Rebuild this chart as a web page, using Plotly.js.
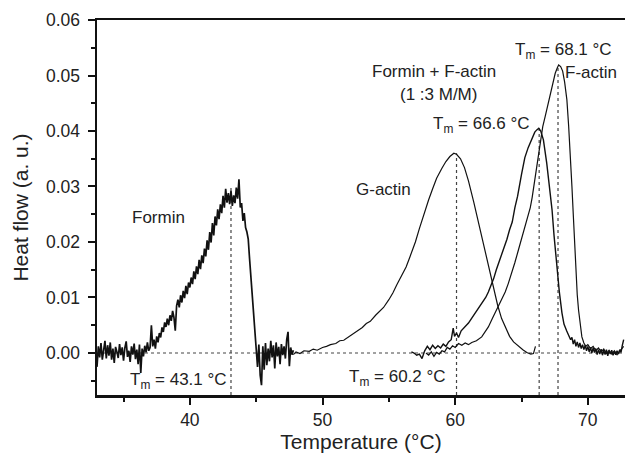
<!DOCTYPE html>
<html>
<head>
<meta charset="utf-8">
<script src="https://cdn.plot.ly/plotly-3.0.1.min.js"></script>
<style>html,body{margin:0;padding:0;background:#fff;}#chart{width:625px;height:456px;}</style>
</head>
<body>
<div id="chart"></div>
<script>
// ---- Formin (noisy DSC trace) ----
const forminX = [33.0,33.1,33.2,33.3,33.4,33.5,33.6,33.7,33.8,33.9,
  34.0,34.1,34.2,34.3,34.4,34.5,34.6,34.7,34.8,34.9,
  35.0,35.1,35.2,35.3,35.4,35.5,35.6,35.7,35.8,35.9,
  36.0,36.1,36.2,36.3,36.4,36.5,36.6,36.7,36.8,36.9,
  37.0,37.1,37.2,37.3,37.4,37.5,37.6,37.7,37.8,37.9,
  38.0,38.1,38.2,38.3,38.4,38.5,38.6,38.7,38.8,38.9,
  39.0,39.1,39.2,39.3,39.4,39.5,39.6,39.7,39.8,39.9,
  40.0,40.1,40.2,40.3,40.4,40.5,40.6,40.7,40.8,40.9,
  41.0,41.1,41.2,41.3,41.4,41.5,41.6,41.7,41.8,41.9,
  42.0,42.1,42.2,42.3,42.4,42.5,42.6,42.7,42.8,42.9,
  43.0,43.1,43.2,43.3,43.4,43.5,43.6,43.7,43.8,43.9,
  44.0,44.1,44.2,44.3,44.4,44.5,44.6,44.7,44.8,44.9,
  45.0,45.1,45.2,45.3,45.4,45.5,45.6,45.7,45.8,45.9,
  46.0,46.1,46.2,46.3,46.4,46.5,46.6,46.7,46.8,46.9,
  47.0,47.1,47.2,47.3,47.4,47.5,47.6,47.7,47.8];
const forminY = [-0.0025,0.0012,-0.0008,0.0018,-0.0012,0.0005,0.0022,-0.0010,0.0014,-0.0005,
  0.0019,-0.0012,0.0008,-0.0018,0.0011,0.0002,-0.0009,0.0016,-0.0004,0.0010,
  -0.0014,0.0009,0.0021,-0.0007,0.0004,-0.0016,0.0012,-0.0003,0.0017,-0.0011,
  0.0006,-0.0020,0.0015,-0.0036,0.0008,-0.0006,0.0013,0.0001,0.0019,0.0004,
  0.0010,0.0050,0.0012,0.0024,0.0008,0.0030,0.0019,0.0036,0.0028,0.0046,
  0.0038,0.0055,0.0047,0.0062,0.0050,0.0068,0.0058,0.0076,0.0064,0.0040,
  0.0085,0.0096,0.0082,0.0104,0.0091,0.0112,0.0099,0.0121,0.0106,0.0127,
  0.0118,0.0136,0.0124,0.0147,0.0133,0.0156,0.0142,0.0168,0.0151,0.0176,
  0.0162,0.0188,0.0174,0.0203,0.0186,0.0218,0.0199,0.0234,0.0212,0.0246,
  0.0230,0.0259,0.0241,0.0268,0.0252,0.0283,0.0262,0.0296,0.0271,0.0288,
  0.0268,0.0292,0.0265,0.0284,0.0270,0.0298,0.0278,0.0313,0.0262,0.0270,
  0.0238,0.0252,0.0226,0.0218,0.0205,0.0170,0.0135,0.0100,0.0068,0.0035,
  0.0010,-0.0025,0.0015,-0.0040,-0.0058,0.0012,-0.0030,0.0018,-0.0022,0.0008,
  -0.0015,0.0022,-0.0008,0.0014,-0.0028,0.0019,-0.0006,0.0011,-0.0020,0.0016,
  -0.0004,0.0012,-0.0010,0.0024,0.0038,-0.0024,0.0010,-0.0003,0.0005];

// ---- G-actin ----
const gactinX = [47.8,48.0,48.3,48.6,49.0,49.3,49.6,50.0,50.3,50.6,51.0,51.3,51.6,52.0,52.3,52.6,
  53.0,53.3,53.6,54.0,54.3,54.6,55.0,55.3,55.6,56.0,56.3,56.6,57.0,57.3,57.6,58.0,58.3,58.6,
  59.0,59.3,59.6,59.9,60.1,60.4,60.7,61.0,61.4,61.7,62.0,62.3,62.6,62.9,63.2,63.5,63.8,64.1,
  64.4,64.8,65.1,65.4,65.7,65.9,66.05];
const gactinY = [-0.0003,0.0002,-0.0001,0.0004,0.0003,0.0007,0.0005,0.0010,0.0012,0.0015,0.0017,0.0022,0.0023,0.0030,0.0035,0.0039,
  0.0046,0.0053,0.0057,0.0068,0.0076,0.0082,0.0096,0.0108,0.0123,0.0140,0.0155,0.0174,0.0200,0.0224,0.0248,0.0276,0.0296,0.0315,
  0.0333,0.0345,0.0354,0.0360,0.0358,0.0350,0.0334,0.0310,0.0272,0.0240,0.0212,0.0182,0.0150,0.0116,0.0086,0.0062,0.0045,0.0030,
  0.0020,0.0011,0.0006,0.0001,-0.0002,-0.0001,0.0012];

// ---- Formin + F-actin (1:3 M/M) ----
const mixX = [56.7,56.9,57.1,57.3,57.5,57.7,57.9,58.1,58.3,58.5,58.7,58.9,59.1,59.3,59.5,59.7,59.85,59.95,
  60.1,60.25,60.45,60.75,61.0,61.25,61.6,62.0,62.3,62.5,62.7,62.9,63.1,63.4,63.65,63.9,64.1,64.3,64.5,64.7,
  65.0,65.25,65.5,65.75,66.0,66.15,66.3,66.45,66.65,66.9,67.15,67.3,67.45,67.65,67.85,68.05,68.2,68.4,68.55,68.7,
  68.8,68.9,69.0,69.1,69.2,69.3,69.4,69.5,69.6,69.7,69.8,69.9,70.0,70.1,70.2,70.3,70.4,70.5,70.6,70.7,70.8,70.9,
  71.0,71.1,71.2,71.3,71.4,71.5,71.6,71.7,71.8,71.9,72.0,72.1,72.2,72.3,72.4,72.5,72.6,72.7];
const mixY = [0.0002,0.0000,-0.0004,-0.0002,-0.0010,0.0004,0.0012,0.0006,0.0014,0.0008,0.0013,0.0009,0.0016,0.0012,0.0020,0.0024,0.0045,0.0030,
  0.0036,0.0028,0.0040,0.0047,0.0054,0.0063,0.0075,0.0090,0.0100,0.0110,0.0122,0.0134,0.0150,0.0170,0.0188,0.0205,0.0222,0.0236,0.0262,0.0282,
  0.0322,0.0352,0.0370,0.0385,0.0398,0.0402,0.0405,0.0400,0.0384,0.0342,0.0294,0.0258,0.0212,0.0155,0.0110,0.0072,0.0052,0.0040,0.0030,0.0024,
  0.0028,0.0016,0.0024,0.0012,0.0020,0.0010,0.0018,0.0008,0.0015,0.0006,0.0014,0.0004,0.0012,0.0002,0.0010,0.0000,0.0009,0.0001,0.0008,-0.0003,0.0006,-0.0002,
  0.0007,-0.0004,0.0005,-0.0003,0.0006,-0.0005,0.0004,-0.0002,0.0005,-0.0004,0.0003,-0.0003,0.0004,-0.0002,0.0006,0.0001,0.0014,0.0024];

// ---- F-actin ----
const factinX = [57.8,58.0,58.2,58.4,58.6,58.8,59.0,59.2,59.4,59.6,59.8,60.0,60.25,60.5,60.75,61.0,61.25,61.6,
  62.0,62.25,62.5,62.8,63.1,63.4,63.77,64.0,64.27,64.5,64.77,65.0,65.28,65.5,65.66,65.8,66.03,66.2,66.4,66.6,
  66.78,67.0,67.16,67.35,67.54,67.7,67.8,67.95,68.1,68.25,68.42,68.55,68.67,68.8,68.9,69.05,69.2,69.3,69.45,
  69.55,69.7,69.85,70.0,70.2,70.4,70.6,70.8,71.0,71.2,71.4,71.6,71.8,72.0,72.2,72.4,72.7];
const factinY = [0.0000,-0.0004,0.0002,-0.0006,0.0001,-0.0002,0.0004,0.0002,0.0010,0.0007,0.0013,0.0010,0.0017,0.0014,0.0018,0.0015,0.0019,0.0022,
  0.0029,0.0037,0.0047,0.0062,0.0077,0.0092,0.0110,0.0125,0.0144,0.0163,0.0186,0.0206,0.0230,0.0250,0.0262,0.0280,0.0318,0.0350,0.0384,0.0408,
  0.0426,0.0450,0.0468,0.0488,0.0504,0.0514,0.0519,0.0516,0.0508,0.0488,0.0456,0.0410,0.0366,0.0300,0.0250,0.0165,0.0105,0.0077,0.0045,
  0.0029,0.0018,0.0012,0.0015,0.0008,0.0012,0.0004,0.0009,0.0002,0.0007,-0.0001,0.0005,-0.0002,0.0004,-0.0003,0.0003,0.0012];

// ---- Tm marker lines ----
const tmX = [43.1, 60.1, 66.33, 67.75];
const tmTop = [0.0300, 0.0360, 0.0405, 0.0519];
const baseX = [33.0, 72.8];
const baseY = [0, 0];

// ---- axes ----
const xRange = [33.0, 72.8];
const yRange = [-0.00757, 0.06];
const xTicks = [40, 50, 60, 70];
const yTicks = [0.00, 0.01, 0.02, 0.03, 0.04, 0.05, 0.06];

const FONT = "Liberation Sans, Arial, Helvetica, sans-serif";
const dotStyle = {color: '#444', width: 1.2, dash: 'dot'};
const curve = {color: '#111', width: 1.2};

const traces = [];
traces.push({x: baseX, y: baseY, mode: 'lines', line: dotStyle, hoverinfo: 'skip'});
for (let i = 0; i < tmX.length; i++) {
  traces.push({x: [tmX[i], tmX[i]], y: [yRange[0], tmTop[i]], mode: 'lines', line: dotStyle, hoverinfo: 'skip'});
}
traces.push({x: forminX, y: forminY, mode: 'lines', line: {color: '#111', width: 1.7}});
traces.push({x: gactinX, y: gactinY, mode: 'lines', line: curve});
traces.push({x: mixX, y: mixY, mode: 'lines', line: {color: '#111', width: 1.4}});
traces.push({x: factinX, y: factinY, mode: 'lines', line: curve});

const annFont = {family: FONT, size: 17, color: '#222'};
function ann(text, x, y, xanchor) {
  return {text: text, x: x, y: y, xref: 'x', yref: 'y', showarrow: false,
          xanchor: xanchor || 'center', yanchor: 'middle', font: annFont};
}
const annotations = [
  ann('Formin', 37.64, 0.0245),
  ann('G-actin', 54.63, 0.0294),
  ann('Formin + F-actin', 58.40, 0.0507),
  ann('(1 :3 M/M)', 58.73, 0.0465),
  ann('F-actin', 68.15, 0.0506, 'left'),
  ann('T<sub>m</sub> = 68.1 °C', 64.36, 0.0545, 'left'),
  ann('T<sub>m</sub> = 66.6 °C', 58.21, 0.0410, 'left'),
  ann('T<sub>m</sub> = 43.1 °C', 35.34, -0.0050, 'left'),
  ann('T<sub>m</sub> = 60.2 °C', 51.85, -0.0045, 'left')
];

const layout = {
  width: 625, height: 456,
  margin: {l: 97, r: 0, t: 20, b: 61},
  paper_bgcolor: '#fff', plot_bgcolor: '#fff',
  showlegend: false,
  font: {family: FONT, color: '#222'},
  xaxis: {
    range: xRange, showgrid: false, zeroline: false,
    showline: true, linecolor: '#111', linewidth: 2.5, mirror: true,
    ticks: 'outside', ticklen: 7, tickwidth: 2, tickcolor: '#111',
    tickvals: xTicks, ticktext: xTicks.map(String),
    minor: {dtick: 5, tick0: 0, ticks: 'outside', ticklen: 4, tickwidth: 2, tickcolor: '#111'},
    tickfont: {family: FONT, size: 17.5, color: '#222'},
    title: {text: 'Temperature (°C)', font: {family: FONT, size: 21, color: '#222'}, standoff: 6}
  },
  yaxis: {
    range: yRange, showgrid: false, zeroline: false,
    showline: true, linecolor: '#111', linewidth: 2.5, mirror: false,
    ticks: 'outside', ticklen: 7, tickwidth: 2, tickcolor: '#111',
    tickvals: yTicks, ticktext: yTicks.map(v => v.toFixed(2)),
    minor: {dtick: 0.005, tick0: 0, ticks: 'outside', ticklen: 4, tickwidth: 2, tickcolor: '#111'},
    tickfont: {family: FONT, size: 17.5, color: '#222'},
    ticklabelstandoff: 4,
    title: {text: 'Heat flow (a. u.)', font: {family: FONT, size: 21, color: '#222'}, standoff: 12}
  },
  annotations: annotations
};

Plotly.newPlot('chart', traces, layout, {displayModeBar: false, staticPlot: true});
</script>
</body>
</html>
